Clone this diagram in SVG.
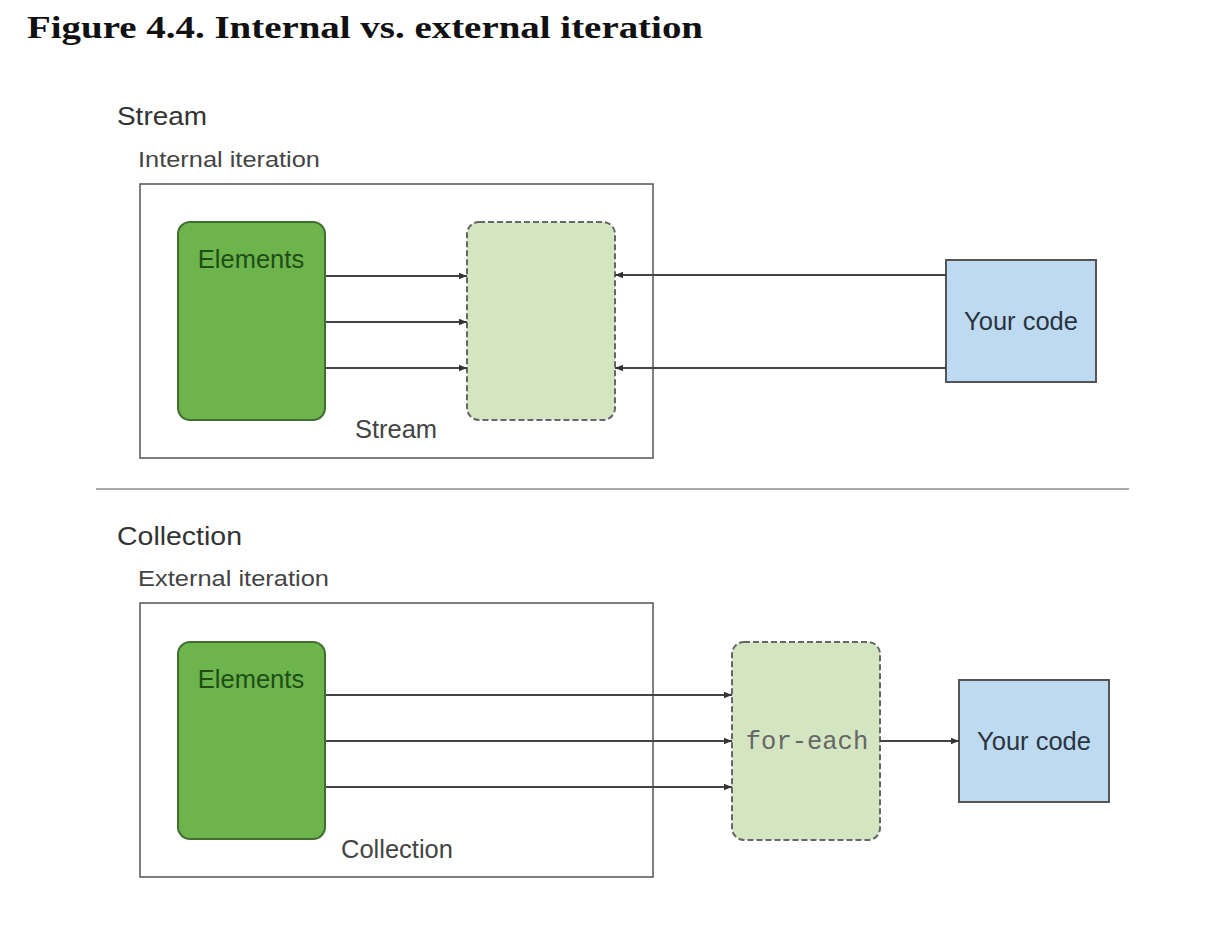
<svg xmlns="http://www.w3.org/2000/svg" width="1206" height="937" viewBox="0 0 1206 937">
<defs>
<style>
.title{font-family:"Liberation Serif","DejaVu Serif",serif;font-weight:bold;font-size:32px;fill:#111}
.h{font-family:"Liberation Sans",Arial,sans-serif;font-size:26px;fill:#333}
.sub{font-family:"Liberation Sans",Arial,sans-serif;font-size:22.5px;fill:#444}
.lbl{font-family:"Liberation Sans",Arial,sans-serif;font-size:25.5px;fill:#444}
.elt{font-family:"Liberation Sans",Arial,sans-serif;font-size:25.5px;fill:#1f4d16}
.code{font-family:"Liberation Sans",Arial,sans-serif;font-size:25.5px;fill:#2a3440}
.mono{font-family:"Liberation Mono","Courier New",monospace;font-size:25.5px;fill:#666}
.frame{fill:#fff;stroke:#555;stroke-width:1.5}
.elem{fill:#6db44d;stroke:#3f6e30;stroke-width:2}
.dash{fill:#d4e5c2;stroke:#666;stroke-width:2;stroke-dasharray:6 3}
.yc{fill:#bedaf1;stroke:#555;stroke-width:2}
.conn line{stroke:#444;stroke-width:1.8;marker-end:url(#ah)}
</style>
<marker id="ah" viewBox="0 0 10 10" refX="10" refY="5" markerWidth="12" markerHeight="8" markerUnits="userSpaceOnUse" orient="auto">
<path d="M0,1 L10,5 L0,9 z" fill="#333"/>
</marker>
</defs>
<rect width="1206" height="937" fill="#fff"/>
<text class="title" x="27" y="38" textLength="676" lengthAdjust="spacingAndGlyphs">Figure 4.4. Internal vs. external iteration</text>

<g id="stream-section">
<text class="h" x="117" y="125" textLength="90" lengthAdjust="spacingAndGlyphs">Stream</text>
<text class="sub" x="138" y="167" textLength="182" lengthAdjust="spacingAndGlyphs">Internal iteration</text>
<rect id="stream-frame" class="frame" x="140" y="184" width="513" height="274"/>
<text class="lbl" x="396" y="438" text-anchor="middle">Stream</text>
</g>
<g id="stream-elements">
<rect class="elem" x="178" y="222" width="147" height="198" rx="12"/>
<text class="elt" x="251" y="268" text-anchor="middle">Elements</text>
</g>
<g id="stream-box">
<rect class="dash" x="467" y="222" width="148" height="198" rx="12"/>
</g>
<g id="stream-yourcode">
<rect class="yc" x="946" y="260" width="150" height="122"/>
<text class="code" x="1021" y="330" text-anchor="middle">Your code</text>
</g>

<line x1="96" y1="489" x2="1129" y2="489" stroke="#aaa" stroke-width="2"/>

<g id="collection-section">
<text class="h" x="117" y="545" textLength="125" lengthAdjust="spacingAndGlyphs">Collection</text>
<text class="sub" x="138" y="586" textLength="191" lengthAdjust="spacingAndGlyphs">External iteration</text>
<rect id="collection-frame" class="frame" x="140" y="603" width="513" height="274"/>
<text class="lbl" x="397" y="858" text-anchor="middle">Collection</text>
</g>
<g id="collection-elements">
<rect class="elem" x="178" y="642" width="147" height="197" rx="12"/>
<text class="elt" x="251" y="688" text-anchor="middle">Elements</text>
</g>
<g id="foreach">
<rect class="dash" x="732" y="642" width="148" height="198" rx="12"/>
<text class="mono" x="807" y="749" text-anchor="middle">for-each</text>
</g>
<g id="collection-yourcode">
<rect class="yc" x="959" y="680" width="150" height="122"/>
<text class="code" x="1034" y="750" text-anchor="middle">Your code</text>
</g>

<g id="connectors" class="conn">
<line x1="326" y1="276" x2="467" y2="276"/>
<line x1="326" y1="322" x2="467" y2="322"/>
<line x1="326" y1="368" x2="467" y2="368"/>
<line x1="946" y1="275" x2="615" y2="275"/>
<line x1="946" y1="368" x2="615" y2="368"/>
<line x1="326" y1="695" x2="732" y2="695"/>
<line x1="326" y1="741" x2="732" y2="741"/>
<line x1="326" y1="787" x2="732" y2="787"/>
<line x1="880" y1="741" x2="959" y2="741"/>
</g>
</svg>
